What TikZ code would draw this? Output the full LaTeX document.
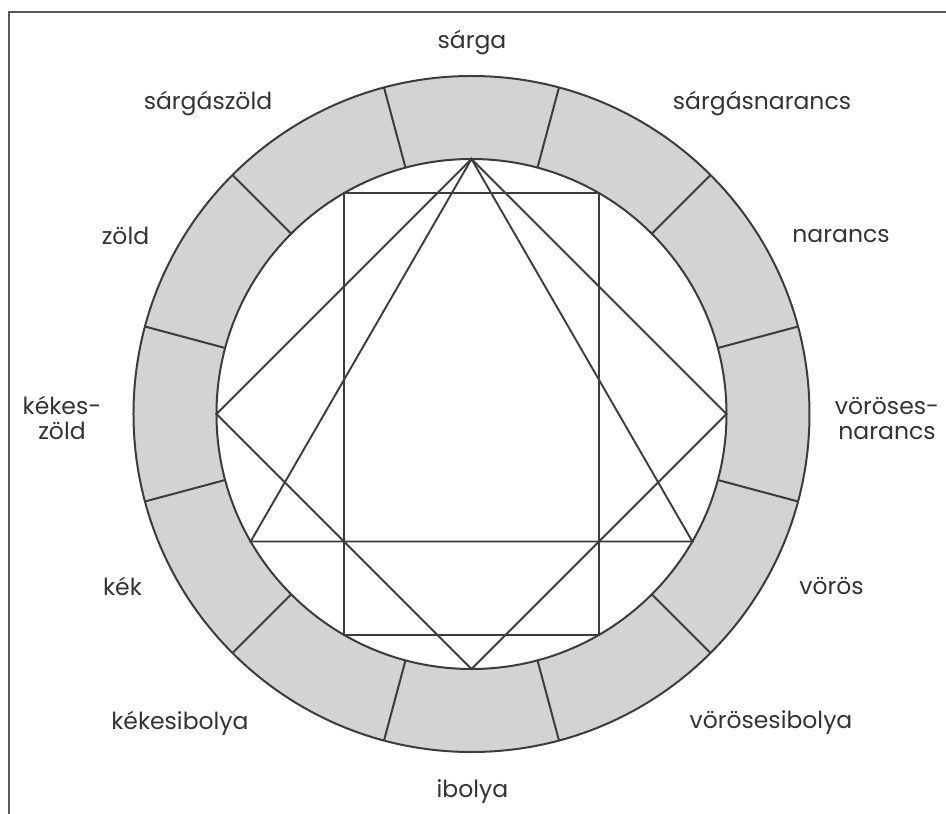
\documentclass[tikz,border=0pt]{standalone}
\usepackage{fontspec}
\setmainfont{Poppins}
\usepackage{xcolor}
\usepackage{tikz}
\usetikzlibrary{positioning,calc}
\definecolor{CWring}{HTML}{D3D3D3}
\definecolor{CWline}{HTML}{3C3C3C}
\definecolor{CWframe}{HTML}{5A5A5A}
\definecolor{CWtext}{HTML}{333333}
\tikzset{
  wheelline/.style={draw=CWline, line width=2pt, line join=round},
  chordline/.style={draw=CWline, line width=1.9pt, line join=miter},
  huelabel/.style={align=center, text=CWtext, font=\fontsize{23.5}{25}\selectfont, inner sep=0pt}
}

\begin{document}
\begin{tikzpicture}[x=1pt, y=1pt]
  \useasboundingbox (-471.5,-400) rectangle (474.5,414);
  % frame (cropped)
  \draw[draw=CWframe, line width=2pt] (-462,-400) -- (-462,402) -- (474.5,402);
  % ring
  \fill[CWring] (0,0) circle (338);
  \fill[white] (0,0) circle (255);
  \draw[wheelline] (0,0) circle (338);
  \draw[wheelline] (0,0) circle (255);
  \foreach \ang in {15,45,...,345} \draw[wheelline] (\ang:255) -- (\ang:338);
  % vertices on the inner circle
  \coordinate (sarga) at (90:255);
  \coordinate (sargasnarancs) at (60:255);
  \coordinate (vorosesnarancs) at (0:255);
  \coordinate (voros) at (-30:255);
  \coordinate (vorosesibolya) at (-60:255);
  \coordinate (ibolya) at (-90:255);
  \coordinate (kekesibolya) at (-120:255);
  \coordinate (kek) at (-150:255);
  \coordinate (kekeszold) at (180:255);
  \coordinate (sargaszold) at (120:255);
  \draw[chordline] (sarga) -- (voros) -- (kek) -- cycle;
  \draw[chordline] (sarga) -- (vorosesnarancs) -- (ibolya) -- (kekeszold) -- cycle;
  \draw[chordline] (sargaszold) -- (sargasnarancs) -- (vorosesibolya) -- (kekesibolya) -- cycle;
  % labels
  \node[huelabel] (lsarga) at (0.5,372) {sárga};
  \node[huelabel] (lsargasnarancs) at (290.5,311) {sárgásnarancs};
  \node[huelabel] (lsargaszold) at (-263.5,311) {sárgászöld};
  \node[huelabel] (lzold) at (-346,178) {zöld};
  \node[huelabel] (lnarancs) at (369.5,178) {narancs};
  \node[huelabel] (lkekeszold) at (-409.5,-4) {kékes-\\zöld};
  \node[huelabel] (lvorosesnarancs) at (415.5,-4) {vöröses-\\narancs};
  \node[huelabel] (lkek) at (-349,-172) {kék};
  \node[huelabel] (lvoros) at (360,-172) {vörös};
  \node[huelabel] (lkekesibolya) at (-291.5,-309) {kékesibolya};
  \node[huelabel] (lvorosesibolya) at (299.5,-309) {vörösesibolya};
  \node[huelabel] (libolya) at (1,-378) {ibolya};
\end{tikzpicture}
\end{document}
